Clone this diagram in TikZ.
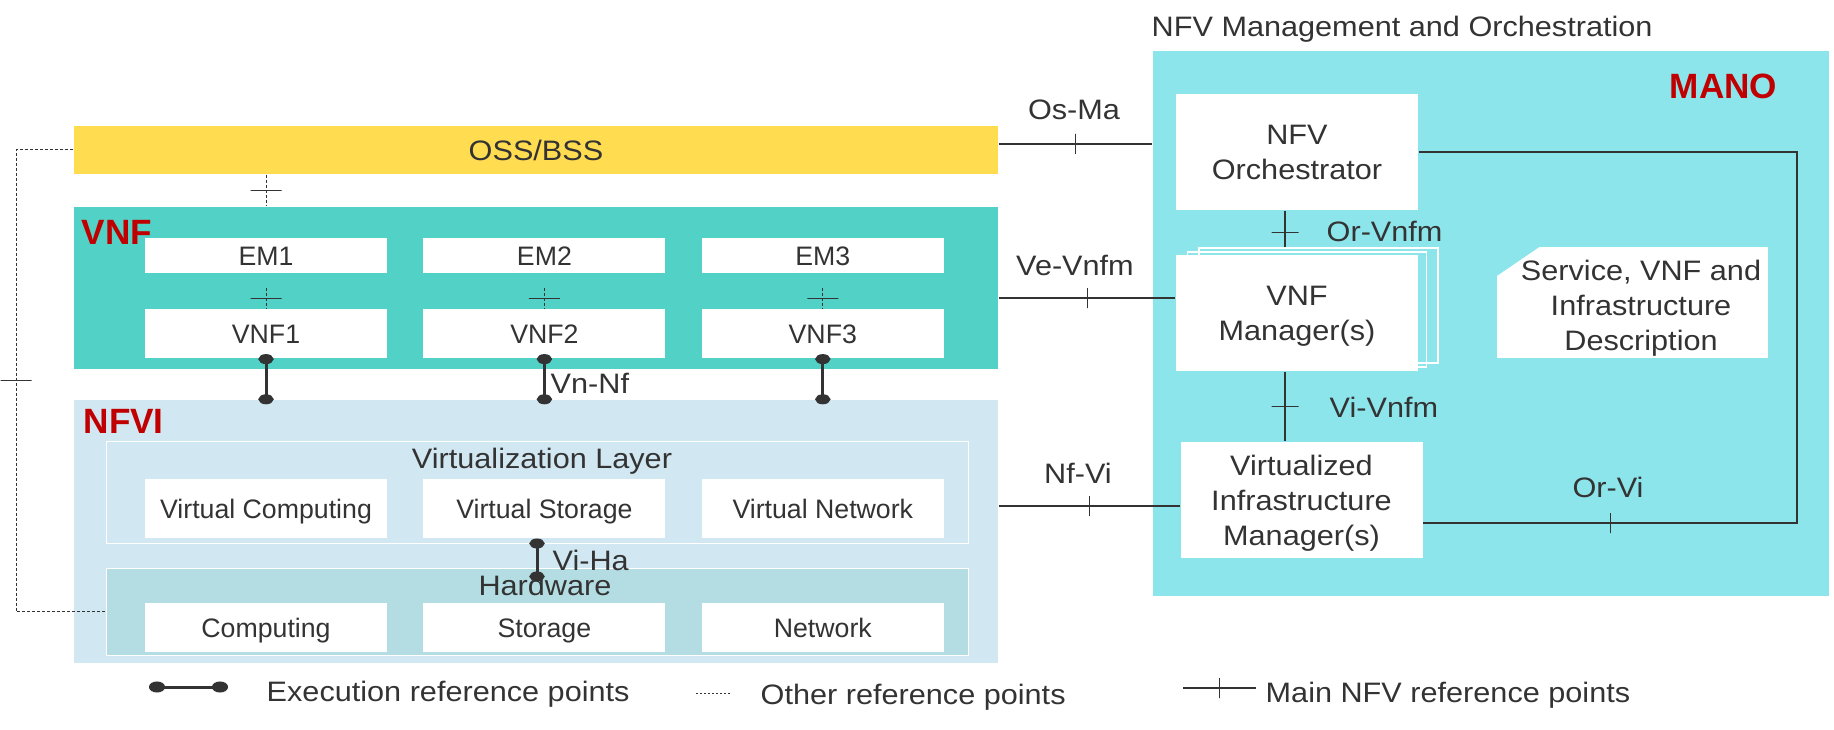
\documentclass[tikz,border=0pt]{standalone}
\usepackage{fontspec}
\setmainfont{Liberation Sans}[FakeStretch=1.09]
\newfontfamily\plainfont{Liberation Sans}
\usepackage{tikz}
\usetikzlibrary{arrows.meta,positioning,backgrounds,fit}
\definecolor{ossyellow}{HTML}{FFDC50}
\definecolor{vnfteal}{HTML}{52D1C6}
\definecolor{nfviblue}{HTML}{D1E7F1}
\definecolor{hwblue}{HTML}{B3DDE2}
\definecolor{manocyan}{HTML}{8DE5EC}
\definecolor{tagred}{HTML}{C00000}
\definecolor{ink}{HTML}{333333}

\begin{document}
\begin{tikzpicture}
			[x=0.1mm, y=-0.1mm, inner sep=0pt, text=ink, font=\fontsize{8}{10}\selectfont,
			area/.style		= {rectangle, minimum width=92.4mm},
			layer/.style	= {rectangle, draw=white, line width=0.1mm, minimum width=86.2mm},
			smallbox/.style	= {rectangle, fill=white, minimum width=24.2mm, text height=1.9mm, text depth=0pt, font=\plainfont\fontsize{7.6}{9}\selectfont},
			manobox/.style	= {rectangle, fill=white, minimum width=24.2mm, minimum height=11.6mm, text depth=0pt, align=center},
			stack/.style	= {rectangle, draw=white, line width=0.15mm, minimum width=23.9mm, minimum height=11.5mm},
			tag/.style		= {anchor=base west, text=tagred, font=\plainfont\bfseries\fontsize{10}{12}\selectfont},
			lbl/.style		= {anchor=base},
			lblw/.style		= {anchor=base west},
			mainline/.style	= {draw=ink, line width=0.25mm},
			otherline/.style	= {draw=ink, line width=0.1mm, dash pattern=on 0.3mm off 0.2mm},
			execline/.style	= {draw=ink, line width=0.3mm, {Circle[length=1mm,width=1.5mm]}-{Circle[length=1mm,width=1.5mm]}, shorten <=-0.5mm, shorten >=-0.5mm},
			tick/.style		= {draw=ink, solid, sloped, line width=0.1mm, minimum width=0pt, minimum height=2mm},
			longtick/.style	= {tick, minimum height=3.1mm}]

			\useasboundingbox (0,0) rectangle (1834,730);

			% MANO side
			\node [fill=manocyan, minimum width=67.6mm, minimum height=54.5mm]	at (1491,323.5)	(mano)	{};
			\node [lblw]	at (1151,37)		(manotitle)	{NFV Management and Orchestration};
			\node [tag]		at (1669,99)		(manotag)	{MANO};
			\node [manobox]	at (1297,152)		(orch)		{NFV\\Orchestrator};
			\node [stack]	at (1318.5,305.5)	(vnfmb)		{};
			\node [stack]	at (1307,309.5)		(vnfma)		{};
			\node [manobox]	at (1297,313)		(vnfm)		{VNF\\Manager(s)};
			\node [manobox]	at (1301.5,500)		(vim)		{Virtualized\\Infrastructure\\Manager(s)};
			\node [rectangle, fill=white, minimum width=27.1mm, minimum height=11.1mm]	at (1632.5,302.5)	(svc)	{};
			\fill [manocyan] (svc.north west) -- ++(44,0) -- ++(-44,30) -- cycle;
			\node [align=center, text depth=0pt]	at (1641,305)	(svctext)	{Service, VNF and\\Infrastructure\\Description};

			% OSS/BSS and VNF
			\node [area, fill=ossyellow, minimum height=4.8mm]	at (536,150)	(oss)	{OSS/BSS};
			\node [area, fill=vnfteal, minimum height=16.2mm]	at (536,288)	(vnf)	{};
			\node [tag]		at (81,245)		(vnftag)	{VNF};
			\node [smallbox, minimum height=3.5mm]	at (266,255.5)			(em1)	{EM1};
			\node [smallbox, minimum height=3.5mm]	[right = 3.5mm of em1]	(em2)	{EM2};
			\node [smallbox, minimum height=3.5mm]	[right = 3.5mm of em2]	(em3)	{EM3};
			\node [smallbox, minimum height=4.9mm]	[below = 3.5mm of em1]	(vnf1)	{VNF1};
			\node [smallbox, minimum height=4.9mm]	[below = 3.5mm of em2]	(vnf2)	{VNF2};
			\node [smallbox, minimum height=4.9mm]	[below = 3.5mm of em3]	(vnf3)	{VNF3};

			% NFVI
			\node [area, fill=nfviblue, minimum height=26.3mm]	at (536,531.5)	(nfvi)	{};
			\node [tag]		at (83,433)		(nfvitag)	{NFVI};
			\node [layer, minimum height=10.2mm]	at (537,492)	(virt)		{};
			\node [lbl]		at (542,468)	(virttitle)	{Virtualization Layer};
			\node [smallbox, minimum height=5.9mm]	at (266,508.5)			(vcomp)	{Virtual Computing};
			\node [smallbox, minimum height=5.9mm]	[right = 3.5mm of vcomp]	(vstor)	{Virtual Storage};
			\node [smallbox, minimum height=5.9mm]	[right = 3.5mm of vstor]	(vnet)	{Virtual Network};
			\node [layer, fill=hwblue, minimum height=8.7mm]	at (537,611.5)	(hw)	{};
			\node [lbl]		at (545,595)	(hwtitle)	{Hardware};
			\node [smallbox, minimum height=4.9mm]	at (266,627.5)			(comp)	{Computing};
			\node [smallbox, minimum height=4.9mm]	[right = 3.5mm of comp]	(stor)	{Storage};
			\node [smallbox, minimum height=4.9mm]	[right = 3.5mm of stor]	(net)	{Network};

			% other reference points
			\coordinate (otherbend) at (16,150);
			\draw [otherline] (oss.west) -- (otherbend) -- node [longtick] {} (otherbend |- hw.west) -- (hw.west);
			\draw [otherline] (oss.south -| em1) -- node [longtick] {} (vnf.north -| em1);
			\draw [otherline, shorten <=1.4mm] (em1.south) -- node [longtick, pos=.7] {} (vnf1.north);
			\draw [otherline, shorten <=1.4mm] (em2.south) -- node [longtick, pos=.7] {} (vnf2.north);
			\draw [otherline, shorten <=1.4mm] (em3.south) -- node [longtick, pos=.7] {} (vnf3.north);

			% execution reference points
			\draw [execline] (vnf1.south) -- (vnf1.south |- nfvi.north);
			\draw [execline] (vnf2.south) -- (vnf2.south |- nfvi.north);
			\draw [execline] (vnf3.south) -- (vnf3.south |- nfvi.north);
			\draw [execline] (virt.south) -- ([yshift=-0.9mm]hw.north);
			\node [lblw]	at (550,393)	(vnnf)	{Vn-Nf};
			\node [lblw]	at (552,570)	(viha)	{Vi-Ha};

			% main reference points
			\coordinate (osma)		at (0,144);
			\coordinate (vevnfm)	at (0,298);
			\coordinate (nfvi2vim)	at (0,506);
			\coordinate (mgmtx)		at (1285,0);
			\coordinate (ring)		at (1797,523);
			\draw [mainline] (oss.east |- osma) -- node [tick] {} (mano.west |- osma);
			\draw [mainline] (vnf.east |- vevnfm) -- node [tick] {} (vnfm.west |- vevnfm);
			\draw [mainline] (nfvi.east |- nfvi2vim) -- node [tick] {} (vim.west |- nfvi2vim);
			\draw [mainline] (orch.south -| mgmtx) -- node [tick, minimum height=2.7mm, pos=.6] {} (vnfmb.north -| mgmtx);
			\draw [mainline] (vnfm.south -| mgmtx) -- node [tick, minimum height=2.7mm] {} (vim.north -| mgmtx);
			\draw [mainline] (orch.east) -| (ring) -- node [tick] {} (ring -| vim.east);
			\node [lbl]		at (1074,120)	(osmalbl)	{Os-Ma};
			\node [lbl]		at (1075,276)	(vevnfmlbl)	{Ve-Vnfm};
			\node [lbl]		at (1078,483)	(nfvilbl)	{Nf-Vi};
			\node [lblw]	at (1326,242)	(orvnfmlbl)	{Or-Vnfm};
			\node [lblw]	at (1329,417)	(vivnfmlbl)	{Vi-Vnfm};
			\node [lbl]		at (1608,497)	(orvilbl)	{Or-Vi};

			% legend
			\coordinate (execa)		at (157,687);
			\coordinate (execb)		at (220,687);
			\coordinate (othera)	at (696,693);
			\coordinate (otherb)	at (730,693);
			\coordinate (maina)		at (1183,688);
			\coordinate (mainb)		at (1256,688);
			\draw [execline, {Circle[length=1.6mm,width=1.1mm]}-{Circle[length=1.6mm,width=1.1mm]}, shorten <=-0.8mm, shorten >=-0.8mm] (execa) -- (execb);
			\draw [otherline, dash pattern=on 0.2mm off 0.2mm] (othera) -- (otherb);
			\draw [mainline] (maina) -- node [tick] {} (mainb);
			\node [lblw]	at (266,701)	(execkey)	{Execution reference points};
			\node [lblw]	at (760,704)	(otherkey)	{Other reference points};
			\node [lblw]	at (1265,702)	(mainkey)	{Main NFV reference points};
\end{tikzpicture}
\end{document}
